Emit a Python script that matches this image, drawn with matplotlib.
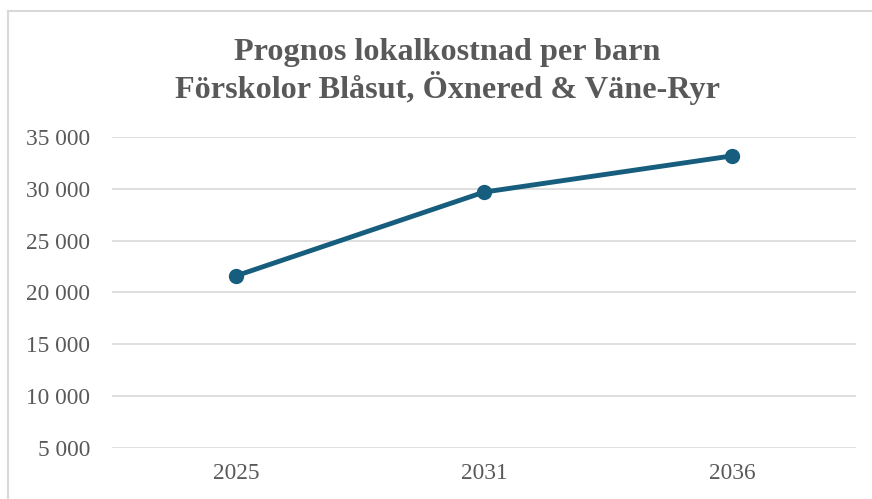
import matplotlib
matplotlib.use("Agg")
import matplotlib.pyplot as plt
from matplotlib.lines import Line2D
from matplotlib.ticker import FuncFormatter

years = ["2025", "2031", "2036"]
values = [21600, 29700, 33200]
yticks = [5000, 10000, 15000, 20000, 25000, 30000, 35000]

W, H = 872, 499
fig = plt.figure(figsize=(W/100, H/100), dpi=100)
plt.rcParams['font.family'] = ['Liberation Serif', 'DejaVu Serif']
txt = '#595959'
grid = '#d9d9d9'
col = '#175E7E'

ax = fig.add_axes([112/W, 1-447.5/H, (856-112)/W, (447.5-137.3)/H])
x = list(range(len(years)))
ax.plot(x, values, color=col, lw=3.5, marker='o', ms=10, solid_capstyle='round', zorder=3)
ax.set_xlim(-0.5, len(years)-0.5)
ax.set_ylim(5000, 35000)
ax.set_yticks(yticks)
ax.yaxis.set_major_formatter(FuncFormatter(lambda v, p: f"{int(v):,}".replace(",", " ")))
ax.set_xticks(x)
ax.set_xticklabels(years)
ax.grid(axis='y', color=grid, lw=1.2)
ax.set_axisbelow(True)
for s in ax.spines.values():
    s.set_visible(False)
ax.tick_params(axis='both', length=0, labelsize=16.8, colors=txt)
ax.tick_params(axis='y', pad=15.5)
ax.tick_params(axis='x', pad=11)

fig.text(447.5/W, 1-60/H, "Prognos lokalkostnad per barn", ha='center', va='baseline',
         fontsize=23.2, fontweight='bold', color=txt)
fig.text(447.5/W, 1-97.7/H, "Förskolor Blåsut, Öxnered & Väne-Ryr", ha='center', va='baseline',
         fontsize=23.2, fontweight='bold', color=txt)

fig.add_artist(Line2D([7.5/W, 7.5/W], [0, 1-10.5/H], transform=fig.transFigure, color=grid, lw=1.5))
fig.add_artist(Line2D([7.5/W, 1], [1-10.5/H, 1-10.5/H], transform=fig.transFigure, color=grid, lw=1.5))

fig.savefig("out.png", dpi=100)
